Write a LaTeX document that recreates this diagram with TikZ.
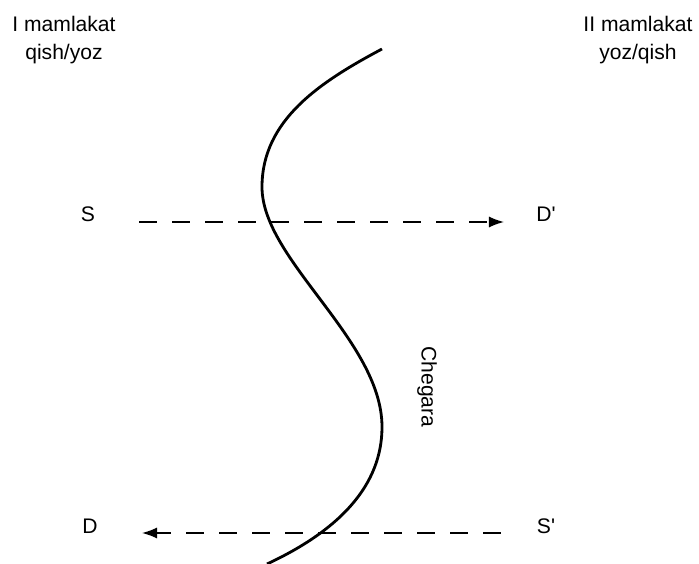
\documentclass[tikz,border=0pt]{standalone}
\usepackage{fontspec}
\setmainfont{Liberation Sans}
\usepackage{tikz}
\usetikzlibrary{arrows.meta, positioning}
\tikzstyle{label} = [inner sep=0pt, font=\fontsize{15}{19.9}\selectfont]
\tikzstyle{country} = [label, align=center]
\tikzstyle{flow} = [line width=1.2pt, dash pattern=on 0.45cm off 0.375cm, -{Latex[length=0.38cm,width=0.28cm]}]
\tikzstyle{border} = [line width=2pt]

\begin{document}
\begin{tikzpicture}[x=0.025cm, y=-0.025cm]
\useasboundingbox (0,0) rectangle (699,564);

\node[country] (left) at (64,40.5) {I mamlakat\\qish/yoz};
\node[country] (right) at (638,40.5) {II mamlakat\\yoz/qish};

\node[label, anchor=base] (S) at (88,222) {S};
\node[label, anchor=base] (Dp) at (546,222) {D\textquotesingle};
\node[label, anchor=base] (D) at (90,533) {D};
\node[label, anchor=base] (Sp) at (546,533) {S\textquotesingle};

% chegara
\draw[border] (382,49) .. controls (320,82) and (262,120) .. (262,187)
  .. controls (262,260) and (382,340) .. (382,427)
  .. controls (382,485) and (340,530) .. (267,564);
\node[label, rotate=-90] (chegara) at (427,387) {Chegara};

\draw[flow, shorten <=1.1cm, shorten >=0.8cm] (S.base east) -- (Dp.base west);
\draw[flow, shorten <=0.9cm, shorten >=1.1cm] (Sp.base west) -- (D.base east);
\end{tikzpicture}
\end{document}
